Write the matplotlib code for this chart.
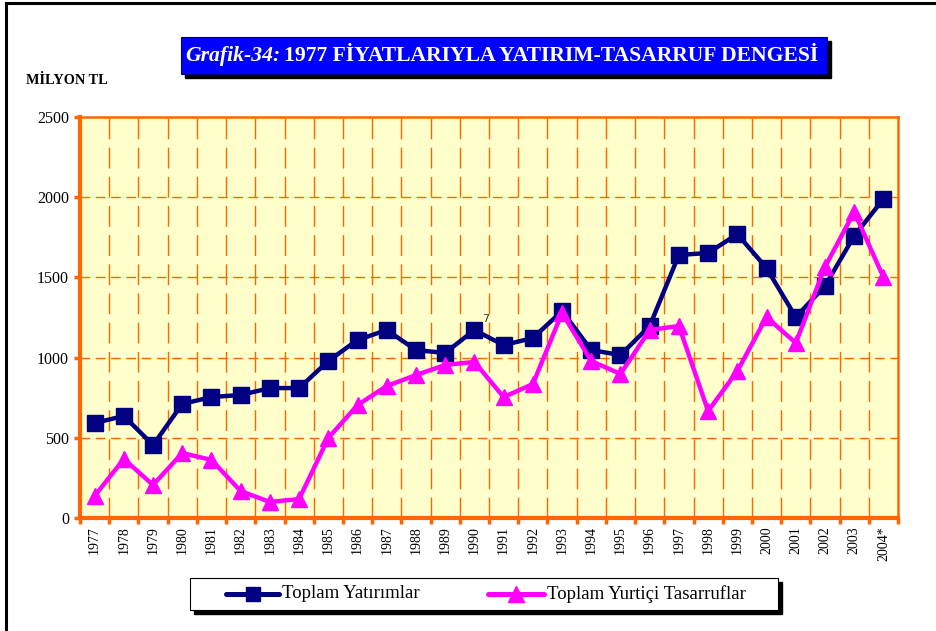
import numpy as np
import matplotlib.pyplot as plt
from matplotlib.patches import Rectangle
from matplotlib.lines import Line2D

plt.rcParams['font.family'] = ['Liberation Serif', 'DejaVu Serif']

years = ['1977', '1978', '1979', '1980', '1981', '1982', '1983', '1984', '1985',
         '1986', '1987', '1988', '1989', '1990', '1991', '1992', '1993', '1994',
         '1995', '1996', '1997', '1998', '1999', '2000', '2001', '2002', '2003',
         '2004*']
yatirimlar = [592, 636, 455, 711, 754, 767, 810, 810, 979, 1110, 1172, 1047, 1029,
              1172, 1078, 1122, 1290, 1047, 1016, 1197, 1640, 1652, 1770, 1558,
              1253, 1446, 1758, 1989]
tasarruflar = [137, 368, 206, 405, 362, 168, 100, 118, 499, 704, 823, 891, 954,
               973, 754, 835, 1278, 979, 898, 1172, 1197, 667, 916, 1253, 1091,
               1565, 1908, 1502]
y_ticks = [0, 500, 1000, 1500, 2000, 2500]

orange = '#FF6600'
navy = '#000080'
magenta = '#FF00FF'

W, H = 936, 631
fig = plt.figure(figsize=(W / 100, H / 100), dpi=100)

def fx(px):
    return px / W

def fy(py):
    return 1 - py / H

# outer frame (left and top only)
fig.add_artist(Line2D([fx(6), fx(6)], [fy(3), 0], color='black', lw=2.2,
                      transform=fig.transFigure))
fig.add_artist(Line2D([fx(6), 1], [fy(3), fy(3)], color='black', lw=2.2,
                      transform=fig.transFigure))

ax = fig.add_axes([fx(80), fy(518), fx(898) - fx(80), fy(117) - fy(518)])
ax.set_facecolor('#FFFFCC')
x = np.arange(len(years))

# grid
for v in y_ticks[1:-1]:
    ax.axhline(v, color=orange, lw=1.0, ls=(0, (7, 4)), zorder=1)
for b in np.arange(len(years) - 1) + 0.5:
    ax.axvline(b, color=orange, lw=1.0, ls=(0, (15, 6)), zorder=1)

ax.plot(x, yatirimlar, color=navy, lw=3.2, marker='s', ms=11, zorder=3,
        label='Toplam Yatırımlar')
ax.plot(x, tasarruflar, color=magenta, lw=3.2, marker='^', ms=12, zorder=3,
        label='Toplam Yurtiçi Tasarruflar')
ax.text(13.25, 1225, '7', fontsize=8, color='#333333', family='DejaVu Sans', zorder=4)

ax.set_xlim(-0.5, len(years) - 0.5)
ax.set_ylim(0, 2500)
ax.set_yticks(y_ticks)
ax.set_yticklabels([str(v) for v in y_ticks], fontsize=11.5)
ax.set_xticks(np.arange(len(years) + 1) - 0.5)
ax.set_xticklabels([])
ax.set_xticks(x, minor=True)
ax.set_xticklabels(years, minor=True, rotation=90, fontsize=10)
ax.tick_params(axis='x', which='minor', length=0, pad=6)
ax.tick_params(axis='x', which='major', length=4, width=2.5, color=orange)
ax.tick_params(axis='y', length=4, width=2.5, color=orange, pad=4)
for side in ['top', 'right']:
    ax.spines[side].set_color(orange)
    ax.spines[side].set_linewidth(1.8)
for side in ['left', 'bottom']:
    ax.spines[side].set_color(orange)
    ax.spines[side].set_linewidth(3.0)

fig.text(fx(26), fy(80), 'MİLYON TL', fontsize=10.3, fontweight='bold', va='center')

# title box with shadow
fig.add_artist(Rectangle((fx(185), fy(78)), fx(827) - fx(181), fy(37) - fy(74),
                         transform=fig.transFigure, color='black', zorder=1))
fig.add_artist(Rectangle((fx(181), fy(74)), fx(827) - fx(181), fy(37) - fy(74),
                         transform=fig.transFigure, facecolor='#0000FF',
                         edgecolor='#000066', lw=0.8, zorder=2))
t1 = fig.text(fx(185), fy(56), 'Grafik-34:', fontsize=15.6, fontweight='bold',
              style='italic', color='white', va='center', zorder=3)
fig.canvas.draw()
bb = t1.get_window_extent(fig.canvas.get_renderer())
fig.text(bb.x1 / W + fx(4), fy(56), '1977 FİYATLARIYLA YATIRIM-TASARRUF DENGESİ',
         fontsize=15.6, fontweight='bold', color='white', va='center', zorder=3)

# legend box with shadow
fig.add_artist(Rectangle((fx(194), fy(614)), fx(778) - fx(190), fy(578) - fy(610),
                         transform=fig.transFigure, color='black', zorder=1))
fig.add_artist(Rectangle((fx(190), fy(610)), fx(778) - fx(190), fy(578) - fy(610),
                         transform=fig.transFigure, facecolor='white',
                         edgecolor='black', lw=0.8, zorder=2))
for x0, x1, col, mk, ms, lab in [(226, 279, navy, 's', 10, 'Toplam Yatırımlar'),
                                 (488, 544, magenta, '^', 11, 'Toplam Yurtiçi Tasarruflar')]:
    fig.add_artist(Line2D([fx(x0), fx(x1)], [fy(594), fy(594)], color=col, lw=3.6,
                          solid_capstyle='round', transform=fig.transFigure, zorder=3))
    fig.add_artist(Line2D([fx((x0 + x1) / 2)], [fy(594)], color=col, marker=mk, ms=ms,
                          lw=0, transform=fig.transFigure, zorder=3))
    fig.text(fx(x1 + 3), fy(594), lab, fontsize=13.5, va='center', zorder=3)

fig.savefig('out.png', dpi=100)
